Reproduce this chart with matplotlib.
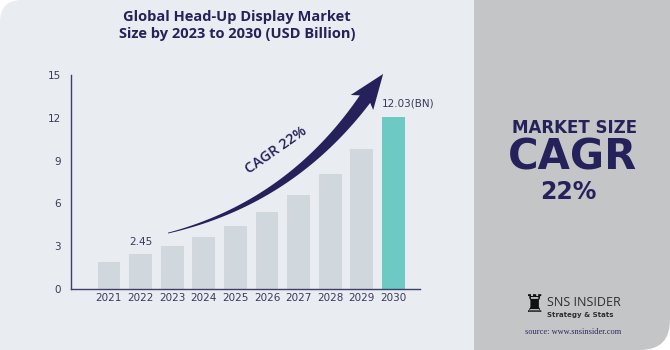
import numpy as np
import matplotlib.pyplot as plt
from matplotlib.patches import FancyBboxPatch, Rectangle, Polygon

# data
years = ['2021', '2022', '2023', '2024', '2025', '2026', '2027', '2028', '2029', '2030']
values = [1.91, 2.45, 3.01, 3.64, 4.44, 5.42, 6.61, 8.06, 9.83, 12.03]
yticks = [0, 3, 6, 9, 12, 15]

navy = '#25215A'
bar_grey = '#D1D8DD'
teal = '#6DC9C4'
light_bg = '#E9ECF1'
panel_grey = '#C4C5C7'

fig = plt.figure(figsize=(6.7, 3.5), dpi=100)
fig.patch.set_facecolor('white')

# background panels (inches)
T = fig.dpi_scale_trans
fig.patches.append(FancyBboxPatch((4.4, 0), 2.3, 4.0, boxstyle='round,pad=0,rounding_size=0.3',
                                  transform=T, facecolor=panel_grey, edgecolor='none', zorder=-3))
fig.patches.append(FancyBboxPatch((0, -0.5), 4.74, 4.0, boxstyle='round,pad=0,rounding_size=0.22',
                                  transform=T, facecolor=light_bg, edgecolor='none', zorder=-2))
fig.patches.append(Rectangle((4.2, 0), 0.54, 3.5, transform=T, facecolor=light_bg,
                             edgecolor='none', zorder=-2))

ax = fig.add_axes([71 / 670, 1 - 289 / 350, 349 / 670, 214 / 350])
ax.patch.set_visible(False)

x = np.arange(len(years))
colors = [bar_grey] * (len(years) - 1) + [teal]
ax.bar(x, values, width=0.72, color=colors, zorder=2)

ax.set_xlim(-1.2, 9.84)
ax.set_ylim(0, 15)
ax.set_xticks(x)
ax.set_xticklabels(years)
ax.set_yticks(yticks)
ax.tick_params(axis='both', length=0, labelsize=7.5, colors='#3A3A5A')
ax.tick_params(axis='y', pad=7)
ax.tick_params(axis='x', pad=3)
for s in ['top', 'right']:
    ax.spines[s].set_visible(False)
for s in ['left', 'bottom']:
    ax.spines[s].set_color('#3F3D6B')
    ax.spines[s].set_linewidth(1)

ax.annotate('2.45', (1, values[1]), xytext=(0, 9), textcoords='offset points',
            ha='center', va='center', fontsize=7.5, color='#3A3A5A')
ax.annotate('12.03(BN)', (9 - 0.36, values[9]), xytext=(0, 10), textcoords='offset points',
            ha='left', va='center', fontsize=7.5, color='#3A3A5A')

# curved CAGR arrow
fig.canvas.draw()
P0 = np.array([1.87, 3.92])
P1 = np.array([5.73, 6.03])
P2 = np.array([8.10, 13.31])
tr = ax.transData
d0, d1, d2 = tr.transform([P0, P1, P2])
t = np.linspace(0, 1, 60)[:, None]
pts = (1 - t) ** 2 * d0 + 2 * (1 - t) * t * d1 + t ** 2 * d2
tan = 2 * (1 - t) * (d1 - d0) + 2 * t * (d2 - d1)
tan = tan / np.linalg.norm(tan, axis=1)[:, None]
nrm = np.column_stack([-tan[:, 1], tan[:, 0]])
hw = (0.4 + 6.0 * t[:, 0] ** 1.1)[:, None]
left = pts + nrm * hw
right = pts - nrm * hw
end_dir = tan[-1]
end_n = nrm[-1]
tip = d2 + end_dir * 31
wing_l = d2 + end_n * 14 - end_dir * 5
wing_r = d2 - end_n * 13 - end_dir * 4
poly = np.vstack([left, [wing_l], [tip], [wing_r], right[::-1]])
poly_data = tr.inverted().transform(poly)
ax.add_patch(Polygon(poly_data, closed=True, facecolor=navy, edgecolor='none',
                     clip_on=False, zorder=3))
ax.text(5.3, 9.75, 'CAGR 22%', rotation=35, ha='center', va='center', fontsize=10.5,
        color=navy, family='Open Sans', fontweight='semibold')

# title
fig.text(237 / 670, 1 - 25.5 / 350, 'Global Head-Up Display Market\nSize by 2023 to 2030 (USD Billion)',
         ha='center', va='center', fontsize=10.5, fontweight='bold', color=navy,
         family='Open Sans', linespacing=1.3)

# right panel
fig.text(575 / 670, 1 - 128 / 350, 'MARKET SIZE', ha='center', va='center', fontsize=12,
         fontweight='heavy', color=navy, family='DejaVu Sans')
fig.text(572 / 670, 1 - 157 / 350, 'CAGR', ha='center', va='center', fontsize=30,
         fontweight='heavy', color=navy, family='DejaVu Sans')
fig.text(568 / 670, 1 - 192 / 350, '22%', ha='center', va='center', fontsize=17,
         fontweight='heavy', color=navy, family='DejaVu Sans')

# logo
fig.text(534 / 670, 1 - 305 / 350, '\u265C', ha='center', va='center', fontsize=17,
         color='#111111', family='DejaVu Sans')
fig.text(547 / 670, 1 - 302 / 350, 'SNS INSIDER', ha='left', va='center', fontsize=9,
         color='#2E2E2E', family='Open Sans')
fig.text(547 / 670, 1 - 315 / 350, 'Strategy & Stats', ha='left', va='center',
         fontsize=5, fontweight='bold', color='#2E2E2E', family='DejaVu Sans')
fig.text(573 / 670, 1 - 332 / 350, 'source: www.snsinsider.com', ha='center', va='center',
         fontsize=6, color='#2A2A5A', family='Liberation Serif')

fig.savefig('out.png', dpi=100, facecolor=fig.get_facecolor())
